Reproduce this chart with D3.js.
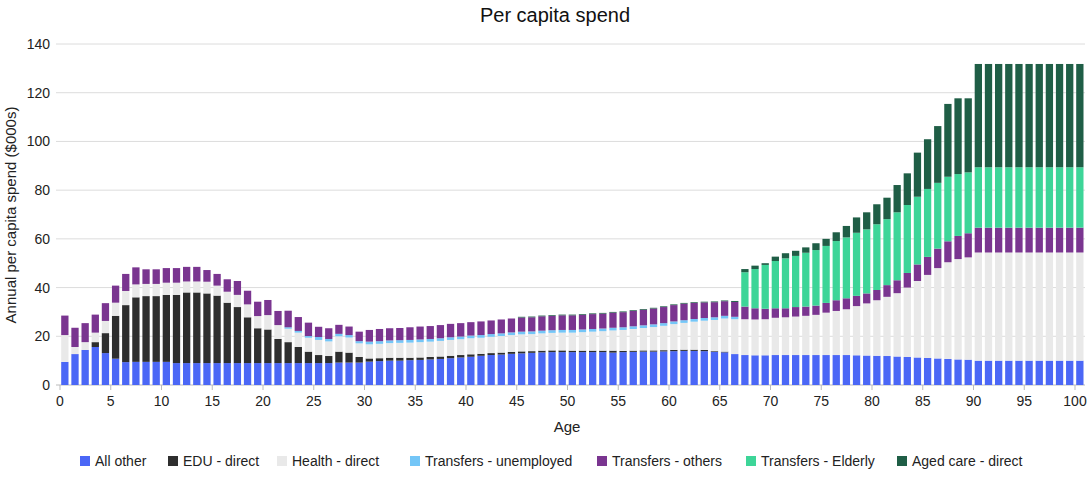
<!DOCTYPE html>
<html><head><meta charset="utf-8">
<script src="https://cdn.jsdelivr.net/npm/d3@7"></script>
<style>body{margin:0;background:#fff;font-family:"Liberation Sans",Arial,sans-serif}</style>
</head><body><svg id="c" width="1091" height="486"></svg>
<script>
const ages = d3.range(0,101);
const allOther = [9.5,12.7,14.4,15.6,13.1,10.8,9.4,9.5,9.5,9.5,
 9.5,9,9,9,9,9,9,9,9,9,
 9,9,9,9,9,9,9,9.2,9.2,9.2,
 9.6,9.8,10,10,10.2,10.3,10.5,10.7,11,11.3,
 11.6,12,12.3,12.5,12.8,13,13.2,13.4,13.5,13.5,
 13.5,13.5,13.5,13.5,13.3,13.5,13.6,13.7,13.7,13.8,
 13.9,14,14,13.9,13.6,13.4,12.7,12.3,12.2,12.2,
 12.3,12.3,12.3,12.3,12.3,12.3,12.3,12.3,12.2,12.1,
 12,11.9,11.7,11.5,11.3,11.1,10.9,10.7,10.5,10.4,
 10,10,10,10,10,10,10,10,10,10,10];
const eduDirect = [0,0,0,2,8.2,17.6,23.4,26.5,27,27,
 27.5,28,29,29,28.6,27.7,24.8,23,18.8,14.3,
 13.8,9.9,8.6,6.6,4.7,3.3,2.9,4.5,4.1,2.3,
 1.3,1.2,1.2,1.2,1,1,1,1,1,1,
 1,0.8,0.8,0.8,0.8,0.8,0.7,0.7,0.7,0.7,
 0.6,0.6,0.6,0.6,0.8,0.5,0.5,0.5,0.5,0.5,
 0.5,0.5,0.5,0.5,0.3,0.3,0,0,0,0,
 0,0,0,0,0,0,0,0,0,0,
 0,0,0,0,0,0,0,0,0,0,
 0,0,0,0,0,0,0,0,0,0,0];
const healthDirect = [11,2.9,3.2,3.9,5,5.4,5.8,5.3,5,5,
 5,5,4.5,4.5,4.8,4.1,4.5,5,5.3,5,
 5.9,5.7,5.5,5.9,5.7,6.2,6,6.3,6.2,5.6,
 5.8,5.9,6,6.1,6.2,6.3,6.3,6.4,6.5,6.5,
 6.6,6.6,6.7,6.8,6.9,7,7,7.1,7.2,7.3,
 7.4,7.6,7.8,8,8.3,8.6,8.9,9.2,9.6,10,
 10.6,11,11.5,12,12.8,13.6,14.3,14.7,14.7,14.8,
 15.3,15.5,15.8,16.1,16.5,17.4,18.1,18.8,20.2,21.4,
 22.8,24.3,26,28.5,31.4,34.1,37.1,39.7,41.2,42,
 44.4,44.4,44.4,44.4,44.4,44.4,44.4,44.4,44.4,44.4,44.4];
const transUnemp = [0,0,0,0,0,0,0,0,0,0,
 0,0,0,0,0,0,0,0,0,0,
 0,0,0.6,0.7,0.7,1.2,1,1,1,0.9,
 1.1,1.1,1.1,1.1,1.1,1.1,1.1,1.1,1.1,1.1,
 1.1,1.1,1.1,1.1,1.1,1.1,1.1,1.1,1.1,1.1,
 1.1,1.1,1.1,1.1,1.1,1.1,1.1,1.1,1.1,1.1,
 1.1,1.1,1.1,1.1,1.1,1.1,1,0,0,0,
 0,0,0,0,0,0,0,0,0,0,
 0,0,0,0,0,0,0,0,0,0,
 0,0,0,0,0,0,0,0,0,0,0];
const transOthers = [8,7.9,7.8,7.4,7.3,7,7,7,6,6,
 6,6,6,6,4.8,4.8,5.1,5.7,5.6,5.9,
 6.2,5.8,6.8,5.7,5.5,4.2,4.4,3.7,3.5,3.9,
 4.8,5,5,5,5.2,5.3,5.3,5.4,5.5,5.5,
 5.5,5.6,5.6,5.7,5.7,5.8,5.8,5.9,5.9,6,
 6,6,6.1,6.1,6.2,6.2,6.3,6.4,6.5,6.6,
 6.7,6.8,6.6,6.4,6.2,6,6.1,5.2,4.6,4.3,
 3.9,3.7,3.9,3.8,3.8,4,4.4,4.5,4.2,4.1,
 4.2,4.8,5.3,6,6.8,7.4,8,8.6,9.5,9.9,
 10.2,10.2,10.2,10.2,10.2,10.2,10.2,10.2,10.2,10.2,10.2];
const transElderly = [0,0,0,0,0,0,0,0,0,0,
 0,0,0,0,0,0,0,0,0,0,
 0,0,0,0,0,0,0,0,0,0,
 0,0,0,0,0,0,0,0,0,0,
 0,0,0,0,0,0,0,0,0,0,
 0,0,0,0,0,0,0,0,0,0,
 0,0,0,0,0,0,0,14.1,16.1,18,
 19.4,20.5,21,22.1,22.8,23.4,24.3,25,25.9,26.3,
 27,27.1,27.9,27.9,27.8,27.9,27,26.5,25.4,25,
 24.8,24.8,24.8,24.8,24.8,24.8,24.8,24.8,24.8,24.8,24.8];
const agedCare = [0,0,0,0,0,0,0,0,0,0,
 0,0,0,0,0,0,0,0,0,0,
 0,0,0,0,0,0,0,0,0,0,
 0,0,0,0,0,0,0,0,0,0,
 0,0,0,0,0,0.3,0.3,0.3,0.3,0.3,
 0.3,0.3,0.3,0.3,0.3,0.3,0.3,0.3,0.3,0.3,
 0.3,0.3,0.3,0.3,0.3,0.3,0.4,1.3,1.4,0.7,
 1.8,2.1,2.1,2.2,2.8,2.9,3.6,4.7,6.3,7,
 8.2,8.8,11.2,13,18.1,20.4,23.3,29.9,31.1,30.4,
 42.4,42.4,42.4,42.4,42.4,42.4,42.4,42.4,42.4,42.4,42.4];
const seriesNames = ["All other","EDU - direct","Health - direct","Transfers - unemployed","Transfers - others","Transfers - Elderly","Aged care - direct"];
const seriesValues = [allOther,eduDirect,healthDirect,transUnemp,transOthers,transElderly,agedCare];
const colors = ["#4b67f6","#2e2e2e","#e9e9e9","#74c6f7","#7a3590","#3dd598","#1f5e46"];
const yTicks = [0,20,40,60,80,100,120,140];
const xTicks = d3.range(0,101,5);

const rows = ages.map((a,i)=>{const r={age:a}; seriesNames.forEach((s,j)=>r[s]=seriesValues[j][i]||0); return r;});
const stack = d3.stack().keys(seriesNames)(rows);

const svg = d3.select("#c");
const x = d3.scaleLinear().domain([0,100]).range([60,1075]);
const y = d3.scaleLinear().domain([0,140]).range([385,44]);
const bw = 7.3;

svg.append("g").selectAll("line").data(yTicks).join("line")
 .attr("x1",56).attr("x2",1085).attr("y1",d=>y(d)).attr("y2",d=>y(d))
 .attr("stroke",d=>d===0?"#bbb":"#dcdcdc").attr("stroke-width",1);
svg.append("g").selectAll("text").data(yTicks).join("text")
 .attr("x",50).attr("y",d=>y(d)+5).attr("text-anchor","end").attr("font-size",14).attr("fill","#222").text(d=>d);

stack.forEach((layer,j)=>{
 svg.append("g").attr("fill",colors[j]).selectAll("rect").data(layer).join("rect")
  .attr("x",d=>x(d.data.age)+1.2).attr("width",bw)
  .attr("y",d=>y(d[1])).attr("height",d=>Math.max(0,y(d[0])-y(d[1])));
});

const xa = svg.append("g");
xa.selectAll("line").data(xTicks).join("line").attr("x1",d=>x(d)).attr("x2",d=>x(d)).attr("y1",385).attr("y2",390).attr("stroke","#bbb");
xa.selectAll("text").data(xTicks).join("text").attr("x",d=>x(d)).attr("y",406).attr("text-anchor","middle").attr("font-size",14).attr("fill","#222").text(d=>d);

svg.append("text").attr("x",555).attr("y",22).attr("text-anchor","middle").attr("font-size",20).attr("fill","#111").text("Per capita spend");
svg.append("text").attr("x",567).attr("y",432).attr("text-anchor","middle").attr("font-size",15).attr("fill","#222").text("Age");
svg.append("text").attr("transform","translate(16,215) rotate(-90)").attr("text-anchor","middle").attr("font-size",15).attr("fill","#222").text("Annual per capita spend ($000s)");

const lx = [80,168,277,410,597,746,897];
const lg = svg.append("g").selectAll("g").data(seriesNames).join("g").attr("transform",(d,i)=>`translate(${lx[i]},456)`);
lg.append("rect").attr("width",10).attr("height",10).attr("fill",(d,i)=>colors[i]);
lg.append("text").attr("x",15).attr("y",10).attr("font-size",14).attr("fill","#222").text(d=>d);
</script></body></html>
